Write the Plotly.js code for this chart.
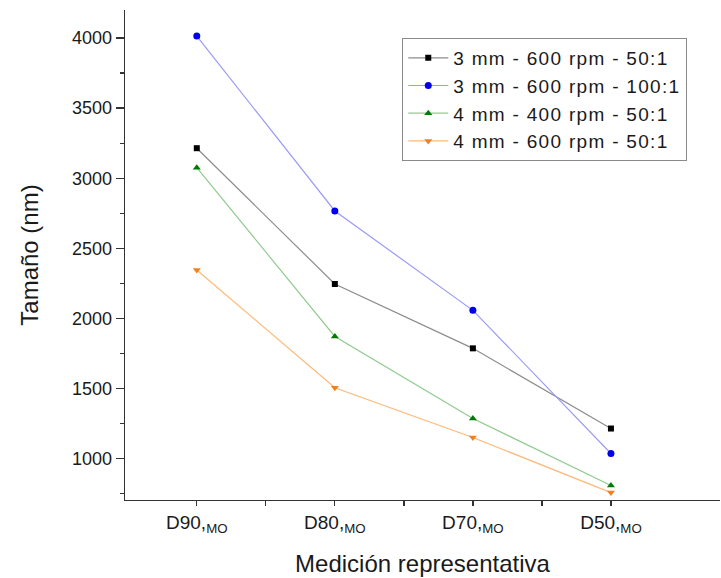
<!DOCTYPE html>
<html>
<head>
<meta charset="utf-8">
<script src="https://cdn.plot.ly/plotly-3.0.1.min.js"></script>
<style>html,body{margin:0;padding:0;background:#fff;}#chart{width:721px;height:578px;} .legendtext{letter-spacing:1.3px;}</style>
</head>
<body>
<div id="chart"></div>
<script>
const categories = ["D90,<sub>MO</sub>", "D80,<sub>MO</sub>", "D70,<sub>MO</sub>", "D50,<sub>MO</sub>"];
const seriesNames = ["3 mm - 600 rpm - 50:1", "3 mm - 600 rpm - 100:1", "4 mm - 400 rpm - 50:1", "4 mm - 600 rpm - 50:1"];
const s1 = [3214, 2245, 1786, 1214];
const s2 = [4014, 2766, 2057, 1036];
const s3 = [3075, 1871, 1286, 807];
const s4 = [2345, 1505, 1150, 757];

const xIdx = categories.map((c, i) => i);
const styles = [
  {line: '#8c8c8c', marker: '#000000', symbol: 'square'},
  {line: '#9b9bf5', marker: '#0000ee', symbol: 'circle'},
  {line: '#8fcb8f', marker: '#007a00', symbol: 'triangle-up'},
  {line: '#ffb878', marker: '#f08020', symbol: 'triangle-down'}
];
const vals = [s1, s2, s3, s4];
const traces = vals.map((v, i) => ({
  x: xIdx, y: v, name: seriesNames[i], type: 'scatter', mode: 'lines+markers',
  line: {color: styles[i].line, width: 1.2},
  marker: {color: styles[i].marker, symbol: styles[i].symbol, size: i === 0 ? 6 : 7}
}));

const layout = {
  width: 721, height: 578,
  margin: {l: 125, r: 1, t: 10, b: 78},
  paper_bgcolor: '#fff', plot_bgcolor: '#fff',
  font: {family: 'Liberation Sans, Arial, sans-serif', color: '#1a1a1a'},
  showlegend: true,
  legend: {
    x: 0.466, y: 0.943, xanchor: 'left', yanchor: 'top',
    bordercolor: '#8a8a8a', borderwidth: 1, bgcolor: '#fff',
    font: {size: 19, color: '#1a1a1a'}, tracegroupgap: 0, itemwidth: 40
  },
  xaxis: {
    range: [-0.52, 3.79], tickmode: 'array', tickvals: xIdx, ticktext: categories,
    showgrid: false, zeroline: false, showline: true, linecolor: '#333', linewidth: 1.3,
    ticks: 'outside', ticklen: 5, tickcolor: '#333', tickwidth: 1.3,
    tickfont: {size: 19, color: '#1a1a1a'},
    minor: {tickmode: 'array', tickvals: [0.5, 1.5, 2.5], ticks: 'outside', ticklen: 5, tickcolor: '#333', tickwidth: 1.3, showgrid: false},
    title: {text: 'Medición representativa', font: {size: 24, color: '#1a1a1a'}, standoff: 20}
  },
  yaxis: {
    range: [704, 4200], tickvals: [1000, 1500, 2000, 2500, 3000, 3500, 4000],
    showgrid: false, zeroline: false, showline: true, linecolor: '#333', linewidth: 1.3,
    ticks: 'outside', ticklen: 8, tickcolor: '#333', tickwidth: 1.3,
    tickfont: {size: 18, color: '#1a1a1a'},
    minor: {dtick: 250, tick0: 0, ticks: 'outside', ticklen: 4, tickcolor: '#333', tickwidth: 1.3, showgrid: false},
    title: {text: 'Tamaño (nm)', font: {size: 24, color: '#1a1a1a'}, standoff: 26}
  }
};
Plotly.newPlot('chart', traces, layout, {displayModeBar: false, staticPlot: true});
</script>
</body>
</html>
